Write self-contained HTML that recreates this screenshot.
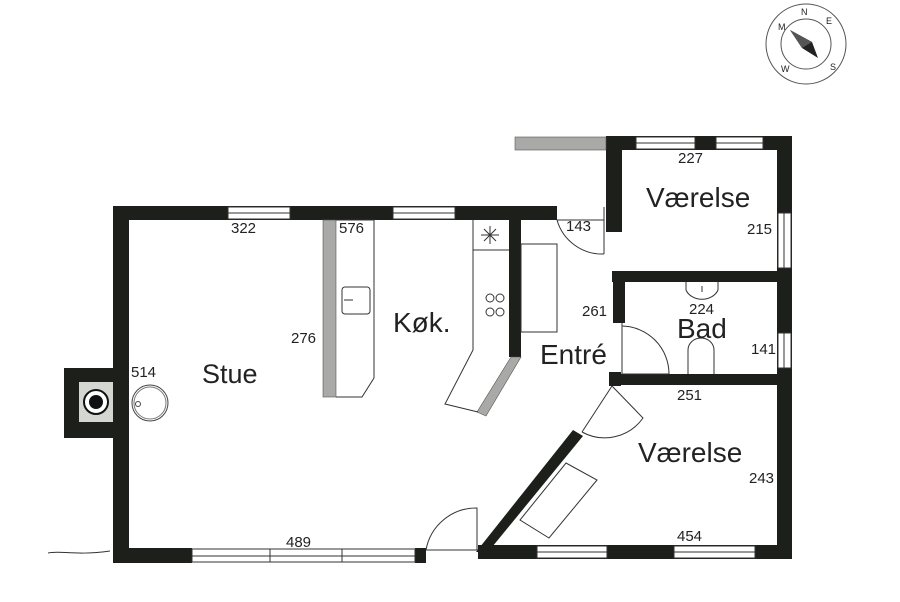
<!DOCTYPE html>
<html><head><meta charset="utf-8"><style>
html,body{margin:0;padding:0;background:#fff}
svg{display:block}
text{font-family:"Liberation Sans",sans-serif;fill:#222}
.d{font-size:15px}
.r{font-size:28px}
</style></head><body>
<svg width="900" height="602" viewBox="0 0 900 602" xmlns="http://www.w3.org/2000/svg">
<g fill="#1c1f1a">
<rect x="113" y="206" width="16" height="357"/>
<rect x="113" y="206" width="444" height="14"/>
<rect x="64" y="368" width="50" height="70"/>
<rect x="113" y="548" width="79" height="15"/>
<rect x="415" y="548" width="11" height="15"/>
<rect x="509" y="217" width="12" height="140"/>
<rect x="606" y="136" width="186" height="14"/>
<rect x="606" y="136" width="16" height="96"/>
<rect x="777" y="136" width="15" height="423"/>
<rect x="612" y="271" width="180" height="11"/>
<rect x="613" y="271" width="12" height="52"/>
<rect x="613" y="374" width="179" height="11"/>
<rect x="609" y="372" width="12" height="14"/>
<rect x="478" y="545" width="314" height="14"/>
<polygon points="476,552 488,552 583,436 573,430"/>
</g>
<g fill="#fff" stroke="#333" stroke-width="1">
<rect x="228" y="207" width="62" height="12"/>
<rect x="393" y="207" width="62" height="12"/>
<rect x="636" y="137" width="59" height="12"/>
<rect x="716" y="137" width="47" height="12"/>
<rect x="778" y="213" width="13" height="55"/>
<rect x="778" y="333" width="13" height="35"/>
<rect x="192" y="549" width="223" height="13"/>
<rect x="537" y="546" width="70" height="12"/>
<rect x="674" y="546" width="81" height="12"/>
</g>
<g stroke="#333" stroke-width="1">
<line x1="228" y1="213" x2="290" y2="213"/><line x1="393" y1="213" x2="455" y2="213"/>
<line x1="636" y1="143" x2="695" y2="143"/><line x1="716" y1="143" x2="763" y2="143"/>
<line x1="784" y1="213" x2="784" y2="268"/><line x1="784" y1="333" x2="784" y2="368"/>
<line x1="192" y1="556" x2="415" y2="556"/><line x1="270" y1="549" x2="270" y2="562"/><line x1="342" y1="549" x2="342" y2="562"/>
<line x1="537" y1="552" x2="607" y2="552"/><line x1="674" y1="552" x2="755" y2="552"/>
</g>
<rect x="79" y="382" width="34" height="40" fill="#d4d6d2"/>
<circle cx="96" cy="402" r="12" fill="#fff" stroke="#111" stroke-width="2"/>
<circle cx="96" cy="402" r="7" fill="#111"/>
<circle cx="150" cy="403" r="18" fill="none" stroke="#444"/>
<circle cx="150" cy="403" r="16" fill="none" stroke="#777"/>
<circle cx="138" cy="404" r="2.5" fill="none" stroke="#444"/>
<g fill="#a9aaa8" stroke="#555" stroke-width="0.6">
<rect x="323" y="220" width="13" height="177"/>
<rect x="515" y="137" width="91" height="13"/>
<polygon points="511,357 521,357 486,416 477,412"/>
</g>
<g fill="none" stroke="#333" stroke-width="1">
<polyline points="336,220 374,220 374,378 362,397 336,397"/>
<rect x="342" y="287" width="28" height="27" rx="3"/>
<line x1="344" y1="300" x2="353" y2="300"/>
<polyline points="473,220 473,350 445,404 478,412"/>
<line x1="473" y1="250" x2="509" y2="250"/>
<circle cx="490" cy="298" r="4"/><circle cx="500" cy="298" r="4"/>
<circle cx="490" cy="312" r="4"/><circle cx="500" cy="312" r="4"/>
<rect x="521" y="244" width="36" height="88"/>
<path d="M490 226 L490 244 M481 235 L499 235 M484 229 L496 241 M496 229 L484 241"/>
<line x1="604" y1="207" x2="604" y2="254"/>
<path d="M557 220 A 47 47 0 0 0 604 254"/>
<line x1="557" y1="220" x2="604" y2="220"/>
<line x1="622" y1="323" x2="622" y2="374"/>
<path d="M622 326 A 48 48 0 0 1 669 374"/>
<line x1="622" y1="374" x2="669" y2="374"/>
<path d="M686 282 L686 290 A 17 14 0 0 0 718 290 L718 282"/>
<line x1="702" y1="286" x2="702" y2="292"/>
<path d="M688 374 L688 350 A 13 12 0 0 1 714 350 L714 374"/>
<line x1="612" y1="386" x2="582" y2="432"/>
<path d="M612 386 L643 418 A 47 47 0 0 1 582 432"/>
<polygon points="566,463 597,480 549,538 520,520"/>
<line x1="426" y1="550" x2="478" y2="550"/>
<path d="M426 550 A 51 51 0 0 1 477 508 L477 550"/>
<path d="M48 553 C 60 550, 75 556, 110 551"/>
</g>
<g fill="none" stroke="#555">
<circle cx="806" cy="44" r="40"/><circle cx="806" cy="44" r="25"/>
</g>
<polygon points="790,30 812,42 818,58 802,48" fill="#222"/>
<polygon points="790,30 812,42 802,48" fill="#555"/>
<g font-size="9"><text x="801" y="15">N</text><text x="826" y="24">E</text><text x="830" y="70">S</text><text x="781" y="72">W</text><text x="778" y="30">M</text></g>
<text class="d" x="231" y="233">322</text>
<text class="d" x="339" y="233">576</text>
<text class="d" x="291" y="343">276</text>
<text class="d" x="131" y="377">514</text>
<text class="r" x="202" y="383" style="font-size:27px">Stue</text>
<text class="r" x="393" y="332">Køk.</text>
<text class="r" x="540" y="364">Entré</text>
<text class="d" x="566" y="231">143</text>
<text class="d" x="582" y="316">261</text>
<text class="d" x="678" y="163">227</text>
<text class="r" x="646" y="207">Værelse</text>
<text class="d" x="747" y="234">215</text>
<text class="d" x="689" y="314">224</text>
<text class="r" x="677" y="338">Bad</text>
<text class="d" x="751" y="354">141</text>
<text class="d" x="677" y="400">251</text>
<text class="r" x="638" y="462">Værelse</text>
<text class="d" x="749" y="483">243</text>
<text class="d" x="677" y="541">454</text>
<text class="d" x="286" y="547">489</text>
</svg>
</body></html>
